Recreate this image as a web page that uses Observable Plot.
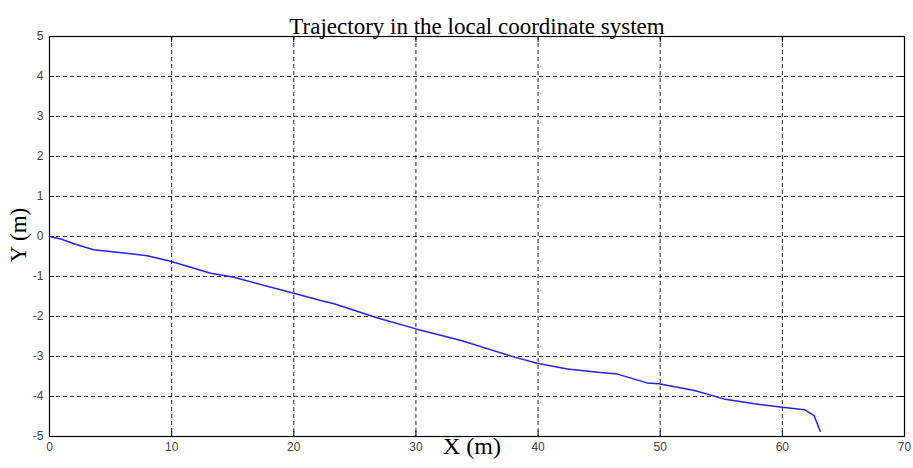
<!DOCTYPE html>
<html><head><meta charset="utf-8">
<script src="https://cdn.jsdelivr.net/npm/d3@7"></script>
<script src="https://cdn.jsdelivr.net/npm/@observablehq/plot@0.6"></script>
<style>body{margin:0;background:#fff}</style>
</head><body><div id="chart"></div>
<script>
const title = "Trajectory in the local coordinate system";
const xLabel = "X (m)";
const yLabel = "Y (m)";
const xTicks = [0,10,20,30,40,50,60,70];
const yTicks = [5,4,3,2,1,0,-1,-2,-3,-4,-5];
const trajX = [0,1,2,3.6,6.1,8.0,9.9,13.2,15.1,20.0,22.2,23.3,26.8,30.0,33.7,37.8,39.9,42.4,45.1,46.5,48.9,49.9,52.8,55.2,57.7,60.0,61.8,62.6,63.1];
const trajY = [0,-0.07,-0.18,-0.33,-0.41,-0.48,-0.62,-0.92,-1.02,-1.42,-1.6,-1.68,-2.03,-2.31,-2.6,-2.99,-3.17,-3.31,-3.4,-3.44,-3.66,-3.68,-3.85,-4.06,-4.18,-4.27,-4.33,-4.48,-4.87];
const traj = trajX.map((x,i)=>({x, y: trajY[i]}));

const serif = "Liberation Serif, Times New Roman, serif";
const sans = "Liberation Sans, Arial, sans-serif";
const fmt = d => String(d);

const chart = Plot.plot({
  width: 913, height: 468,
  marginLeft: 49, marginRight: 9, marginTop: 36, marginBottom: 32,
  x: {domain: [0,70], ticks: xTicks},
  y: {domain: [-5,5], ticks: yTicks},
  style: {background: "#fff"},
  marks: [
    Plot.gridX(xTicks, {stroke: "#000", strokeOpacity: 0.85, strokeDasharray: "4,3"}),
    Plot.gridY(yTicks, {stroke: "#000", strokeOpacity: 0.85, strokeDasharray: "4,3"}),
    Plot.axisX(xTicks, {tickSize: -5, tickPadding: 11, tickFormat: fmt, fontSize: 12, fontFamily: sans, fill: "#444", stroke: "#000", label: null}),
    Plot.axisX(xTicks, {anchor: "top", tickSize: -5, tickFormat: () => "", label: null, stroke: "#000"}),
    Plot.axisY(yTicks, {tickSize: -5, tickPadding: 11, tickFormat: fmt, fontSize: 12, fontFamily: sans, fill: "#444", stroke: "#000", label: null}),
    Plot.axisY(yTicks, {anchor: "right", tickSize: -5, tickFormat: () => "", label: null, stroke: "#000"}),
    Plot.frame({stroke: "#000", strokeWidth: 1.2}),
    Plot.line(traj, {x: "x", y: "y", stroke: "#2222ff", strokeWidth: 1.5}),
    Plot.text([title], {frameAnchor: "top", dy: -19, text: d => d, fontSize: 23, fontFamily: serif, fill: "#000"}),
    Plot.text([xLabel], {frameAnchor: "bottom", dx: -5, dy: 17, text: d => d, fontSize: 24, fontFamily: serif, fill: "#000"}),
    Plot.text([yLabel], {frameAnchor: "left", dx: -31, dy: 26, rotate: -90, text: d => d, fontSize: 23, fontFamily: serif, fill: "#000"})
  ]
});
document.getElementById("chart").appendChild(chart);
</script></body></html>
